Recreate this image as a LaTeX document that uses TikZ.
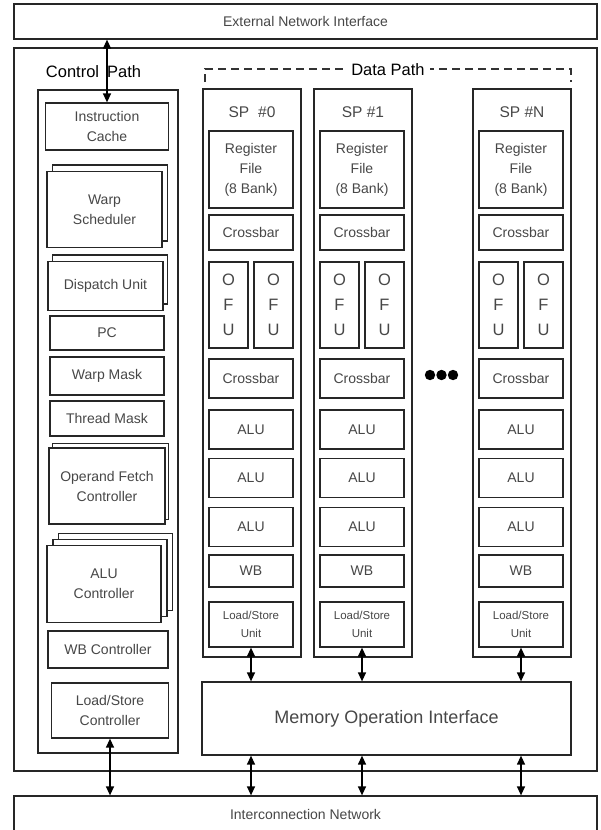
\documentclass[tikz,border=0pt]{standalone}
\usepackage{fontspec}
\setmainfont{Liberation Sans}
\usetikzlibrary{arrows.meta,positioning}

\begin{document}
\begin{tikzpicture}[x=1pt, y=-1pt,
  box/.style={draw=black!85, line width=1.25pt, fill=white, inner sep=0pt,
    align=center, text=black!72, font=\fontsize{14}{20}\selectfont},
  lsbox/.style={box, font=\fontsize{11.5}{18}\selectfont},
  ofubox/.style={box, minimum width=39, minimum height=86,
    font=\fontsize{16.5}{25}\selectfont},
  spbox/.style={box, minimum width=84},
  head/.style={text=black, font=\fontsize{16.5}{18}\selectfont},
  link/.style={{Triangle[length=9pt,width=8pt]}-{Triangle[length=9pt,width=8pt]},
    line width=1.3pt, black}]
  \useasboundingbox (0,0) rectangle (601,830);

  % outer frames
  \node[box, minimum width=583, minimum height=35] (eni) at (305.5,21.5)
       {External Network Interface};
  \node[box, minimum width=583, minimum height=723] (core) at (305.5,409.5) {};
  \node[box, minimum width=583, minimum height=36] (icn) at (305.5,814)
       {Interconnection Network};

  % control path
  \node[head] (cplabel) at (93.5,72) {Control\hskip 8pt Path};
  \node[box, minimum width=140, minimum height=663] (ctrl) at (108,421.5) {};
  \node[box, minimum width=123, minimum height=47] (ic) at (107,126.5)
       {Instruction\\Cache};
  \node[box, minimum width=115, minimum height=76] (wsb) at (110,203) {};
  \node[box, minimum width=115, minimum height=76] (ws) at (104.5,209.5)
       {Warp\\Scheduler};
  \node[box, minimum width=115, minimum height=49] (dub) at (110,279.5) {};
  \node[box, minimum width=115, minimum height=49] (du) at (105.5,286)
       {Dispatch Unit};
  \node[box, minimum width=114, minimum height=34] (pc) at (107,333) {PC};
  \node[box, minimum width=114, minimum height=38] (wm) at (107,376) {Warp Mask};
  \node[box, minimum width=114, minimum height=35] (tm) at (107,418.5) {Thread Mask};
  \node[box, minimum width=116, minimum height=76] (ofcb) at (110.5,481.5) {};
  \node[box, minimum width=116, minimum height=76] (ofc) at (107,486)
       {Operand Fetch\\Controller};
  \node[box, minimum width=114, minimum height=77] (alucc) at (115.5,572) {};
  \node[box, minimum width=114, minimum height=77] (alucb) at (110,578) {};
  \node[box, minimum width=114, minimum height=77] (aluc) at (104,584)
       {ALU\\Controller};
  \node[box, minimum width=120, minimum height=37] (wbc) at (108,649.5)
       {WB Controller};
  \node[box, minimum width=117, minimum height=55] (lsc) at (110,710.5)
       {Load/Store\\Controller};

  % data path
  \draw[black!80, line width=1.3pt, dash pattern=on 8pt off 5pt]
    (205,82) -- (205,69) -- (571,69) -- (571,82);
  \node[head, fill=white, inner xsep=5pt] (dplabel) at (388,70) {Data Path};

  \node[box, minimum width=369, minimum height=73] (moi) at (386.5,718.5)
       {\fontsize{18}{20}\selectfont Memory Operation Interface};

  \foreach \sp/\xl/\lab in {0/203/{SP\hskip 9pt\#0}, 1/314/{SP \#1}, n/473/{SP \#N}} {
    \node[box, minimum width=98, minimum height=568] (sp\sp) at (\xl+49,373) {};
    \node[box, draw=none, fill=none, font=\fontsize{15.5}{18}\selectfont]
      (title\sp) at (\xl+49,112) {\lab};
    \node[spbox, minimum height=77] (rf\sp) at (\xl+48,169.5)
      {Register\\File\\(8 Bank)};
    \node[spbox, minimum height=35] (xba\sp) at (\xl+48,232.5) {Crossbar};
    \node[ofubox] (ofua\sp) at (\xl+25.5,305) {O\\F\\U};
    \node[ofubox] (ofub\sp) at (\xl+70.5,305) {O\\F\\U};
    \node[spbox, minimum height=39] (xbb\sp) at (\xl+48,378.5) {Crossbar};
    \node[spbox, minimum height=39] (alua\sp) at (\xl+48,429.5) {ALU};
    \node[spbox, minimum height=39] (alub\sp) at (\xl+48,478) {ALU};
    \node[spbox, minimum height=39] (aluc\sp) at (\xl+48,527) {ALU};
    \node[spbox, minimum height=32] (wb\sp) at (\xl+48,571) {WB};
    \node[lsbox, minimum width=84, minimum height=45] (lsu\sp) at (\xl+48,624.5)
      {Load/Store\\Unit};
    \draw[link] (lsu\sp.south) -- (lsu\sp.south |- moi.north);
    \draw[link] (lsu\sp.south |- moi.south) -- (lsu\sp.south |- icn.north);
  }

  % more SPs
  \foreach \x in {430,441.5,453} \fill[black] (\x,375) circle (5.2);

  % control links
  \draw[link] (ic.north |- eni.south) -- (ic.north);
  \draw[link] (lsc.south) -- (lsc.south |- icn.north);
\end{tikzpicture}
\end{document}
